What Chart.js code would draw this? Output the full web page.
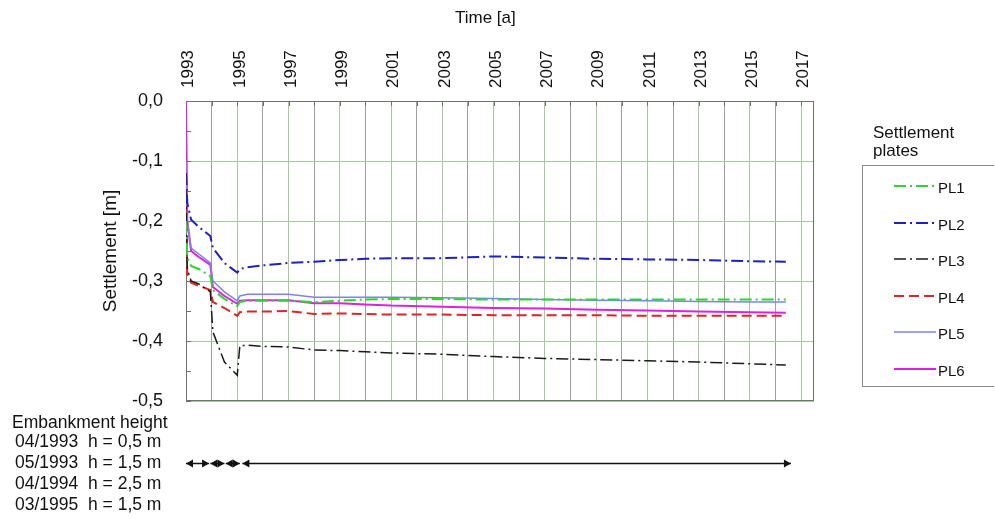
<!DOCTYPE html>
<html>
<head>
<meta charset="utf-8">
<script src="https://cdn.jsdelivr.net/npm/chart.js@4.4.1/dist/chart.umd.min.js"></script>
<style>
  html, body { margin: 0; padding: 0; background: #fff; }
  body { width: 995px; height: 519px; position: relative; overflow: hidden;
         font-family: 'Liberation Sans', Arial, sans-serif; color: #111; }
  #wrap { position: absolute; left: 0; top: 0; width: 995px; height: 519px; }
  .txt { position: absolute; white-space: pre; line-height: 1; }
  #legendBox { position: absolute; left: 862px; top: 165px; width: 132px; height: 222px;
               border: 1px solid #8a8a8a; border-right: none; box-sizing: border-box; }
  .item { position: absolute; left: 0; height: 20px; }
  .item svg { position: absolute; left: 31px; top: 4px; }
  .item span { position: absolute; left: 75px; top: 2px; font-size: 15px; }
</style>
</head>
<body>
<div id="wrap"><canvas id="chart" width="995" height="519"></canvas></div>

<div class="txt" style="left:455px; top:9px; font-size:17px;">Time [a]</div>

<div class="txt" style="left:873px; top:124px; font-size:17px; line-height:18px;">Settlement
plates</div>
<div id="legendBox"></div>

<div class="txt" style="left:12px; top:414px; font-size:17.5px;">Embankment height</div>
<div id="embank"></div>

<script>
// ---- data ----
const times = [1993.0, 1993.05, 1993.2, 1993.5, 1993.95, 1994.05, 1994.5, 1995.0, 1995.1, 1995.4,
               1996, 1997, 1998, 1999, 2000, 2001, 2003, 2005, 2007, 2009, 2011, 2013, 2015, 2016.4];

const pl1 = [-0.20, -0.26, -0.275, -0.28, -0.292, -0.315, -0.33, -0.342, -0.335, -0.333,
             -0.333, -0.333, -0.335, -0.333, -0.331, -0.330, -0.330, -0.331, -0.331, -0.331, -0.331, -0.331, -0.331, -0.331];
const pl2 = [-0.12, -0.17, -0.198, -0.21, -0.225, -0.245, -0.27, -0.286, -0.280, -0.277,
             -0.274, -0.270, -0.268, -0.265, -0.263, -0.262, -0.262, -0.259, -0.261, -0.263, -0.264, -0.265, -0.267, -0.268];
const pl3 = [-0.15, -0.28, -0.300, -0.305, -0.318, -0.385, -0.435, -0.457, -0.408, -0.407,
             -0.409, -0.410, -0.415, -0.416, -0.418, -0.420, -0.422, -0.426, -0.429, -0.431, -0.433, -0.435, -0.438, -0.440];
const pl4 = [-0.15, -0.29, -0.303, -0.308, -0.315, -0.335, -0.345, -0.358, -0.352, -0.351,
             -0.351, -0.350, -0.355, -0.354, -0.355, -0.356, -0.356, -0.357, -0.357, -0.357, -0.358, -0.358, -0.358, -0.358];
const pl5 = [-0.10, -0.20, -0.245, -0.255, -0.270, -0.300, -0.318, -0.333, -0.325, -0.322,
             -0.322, -0.322, -0.327, -0.327, -0.327, -0.327, -0.328, -0.329, -0.331, -0.332, -0.333, -0.334, -0.335, -0.335];
const pl6 = [0.0, -0.20, -0.250, -0.260, -0.273, -0.310, -0.325, -0.338, -0.333, -0.332,
             -0.332, -0.332, -0.337, -0.337, -0.339, -0.341, -0.343, -0.345, -0.346, -0.348, -0.349, -0.351, -0.352, -0.353];

const seriesNames = ['PL1', 'PL2', 'PL3', 'PL4', 'PL5', 'PL6'];

// embankment stages (text) and the periods shown by the arrows, in years
const embankDates = ['04/1993', '05/1993', '04/1994', '03/1995'];
const embankHeights = ['h = 0,5 m', 'h = 1,5 m', 'h = 2,5 m', 'h = 1,5 m'];
const arrowSpans = [[1993.0, 1993.9], [1993.95, 1994.5], [1994.55, 1995.1], [1995.2, 2016.6]];

// ---- styles ----
const styles = [
  { color: '#2fd42f', width: 2,   dash: [12, 4, 2, 4] },
  { color: '#1f1fc4', width: 2,   dash: [12, 4, 2, 4] },
  { color: '#1a1a1a', width: 1.5, dash: [12, 4, 2, 4] },
  { color: '#e02424', width: 2,   dash: [10, 5] },
  { color: '#8080f4', width: 1.5, dash: [] },
  { color: '#e020e0', width: 2,   dash: [] }
];
const values = [pl1, pl2, pl3, pl4, pl5, pl6];

const datasets = seriesNames.map((name, i) => ({
  label: name,
  data: times.map((t, k) => ({ x: t, y: values[i][k] })),
  borderColor: styles[i].color,
  borderWidth: styles[i].width,
  borderDash: styles[i].dash,
  pointRadius: 0,
  tension: 0,
  fill: false
}));

const GREEN_GRID = '#a3cc9c';
const GRAY_GRID = '#9f9f9f';

const framePlugin = {
  id: 'frame',
  beforeDatasetsDraw(chart) {
    const { ctx, chartArea: a, scales: { x, y } } = chart;
    ctx.save();
    ctx.strokeStyle = '#707070';
    ctx.lineWidth = 1;
    ctx.strokeRect(Math.round(a.left) + 0.5, Math.round(a.top) + 0.5,
                   Math.round(a.width) - 1, Math.round(a.height) - 1);
    ctx.beginPath();
    for (let v = 1993; v <= 2017; v++) {
      const px = Math.round(x.getPixelForValue(v)) + 0.5;
      ctx.moveTo(px, a.top); ctx.lineTo(px, a.top + 5);
    }
    for (let k = 0; k <= 10; k++) {
      const py = Math.round(y.getPixelForValue(-k * 0.05)) + 0.5;
      ctx.moveTo(a.left, py); ctx.lineTo(a.left + 5, py);
    }
    ctx.stroke();
    ctx.restore();
  },
  afterDraw(chart) {
    const { ctx, scales: { x } } = chart;
    const yy = 463.5;
    ctx.save();
    ctx.strokeStyle = '#111';
    ctx.fillStyle = '#111';
    ctx.lineWidth = 1.5;
    const head = (px, dir) => {
      ctx.beginPath();
      ctx.moveTo(px, yy);
      ctx.lineTo(px - dir * 7, yy - 4);
      ctx.lineTo(px - dir * 7, yy + 4);
      ctx.closePath();
      ctx.fill();
    };
    arrowSpans.forEach(([a, b]) => {
      const x0 = x.getPixelForValue(a);
      const x1 = x.getPixelForValue(b);
      ctx.beginPath();
      ctx.moveTo(x0, yy); ctx.lineTo(x1, yy);
      ctx.stroke();
      head(x0, -1);
      head(x1, 1);
    });
    ctx.restore();
  }
};

Chart.defaults.font.family = "'Liberation Sans', Arial, sans-serif";
Chart.defaults.color = '#111';

const chart = new Chart(document.getElementById('chart').getContext('2d'), {
  type: 'line',
  data: { datasets },
  options: {
    responsive: false,
    animation: false,
    layout: { padding: { left: 90, top: 0, right: 181, bottom: 118 } },
    plugins: { legend: { display: false }, tooltip: { enabled: false } },
    scales: {
      x: {
        type: 'linear',
        position: 'top',
        min: 1993,
        max: 2017.5,
        afterFit(scale) { scale.height = 101; },
        grid: {
          drawTicks: false,
          color: c => (c.tick && c.tick.value % 2 === 1 ? GREEN_GRID : GRAY_GRID)
        },
        border: { display: false },
        ticks: {
          stepSize: 1,
          includeBounds: false,
          autoSkip: false,
          minRotation: 90,
          maxRotation: 90,
          padding: 13,
          labelOffset: 23,
          font: { size: 17 },
          color: '#111',
          callback: v => (v % 2 === 1 ? String(v) : '')
        }
      },
      y: {
        min: -0.5,
        max: 0,
        afterFit(scale) { scale.width = 96; },
        grid: { drawTicks: false, color: GREEN_GRID },
        border: { display: false },
        ticks: {
          stepSize: 0.1,
          padding: 23,
          font: { size: 18 },
          color: '#111',
          callback: v => v.toFixed(1).replace('.', ',')
        },
        title: {
          display: true,
          text: 'Settlement [m]',
          font: { size: 19 },
          color: '#111',
          padding: { top: 9, bottom: 0 }
        }
      }
    }
  },
  plugins: [framePlugin]
});

// ---- legend built from the datasets ----
const box = document.getElementById('legendBox');
chart.data.datasets.forEach((ds, i) => {
  const row = document.createElement('div');
  row.className = 'item';
  row.style.top = (11 + i * 36.5) + 'px';
  row.style.width = '130px';
  const dash = ds.borderDash.length ? ds.borderDash.join(' ') : 'none';
  row.innerHTML =
    '<svg width="42" height="10"><line x1="0" y1="5" x2="42" y2="5" stroke="' + ds.borderColor +
    '" stroke-width="' + ds.borderWidth + '" stroke-dasharray="' + dash + '"/></svg>' +
    '<span>' + ds.label + '</span>';
  box.appendChild(row);
});

// ---- embankment text ----
const emb = document.getElementById('embank');
embankDates.forEach((d, i) => {
  const top = 433 + i * 21;
  emb.insertAdjacentHTML('beforeend',
    '<div class="txt" style="left:15px; top:' + top + 'px; font-size:17.5px;">' + d + '</div>' +
    '<div class="txt" style="left:88px; top:' + top + 'px; font-size:17.5px;">' + embankHeights[i] + '</div>');
});
</script>
</body>
</html>
